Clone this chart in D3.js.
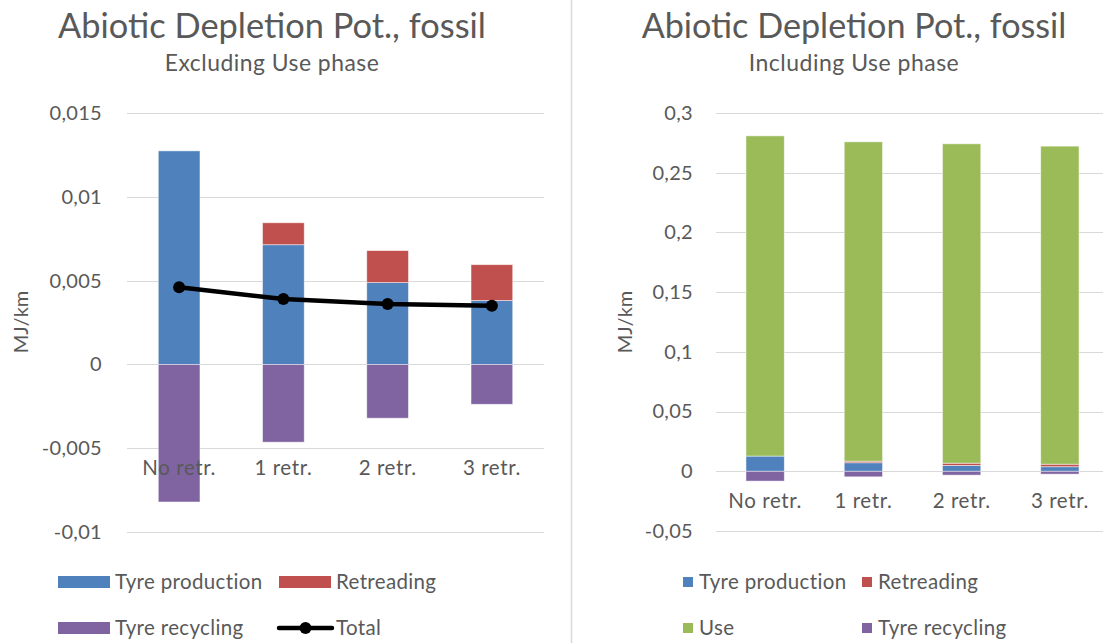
<!DOCTYPE html>
<html>
<head>
<meta charset="utf-8">
<script src="https://cdn.jsdelivr.net/npm/d3@7"></script>
<style>
  html, body { margin: 0; padding: 0; background: #fff; }
  svg { display: block; font-family: Lato, "Open Sans", sans-serif; }
</style>
</head>
<body>
<svg id="chart" width="1103" height="643"></svg>
<script>
// Abiotic depletion potential (fossil), MJ per km, per retreading scenario
const categories = ["No retr.", "1 retr.", "2 retr.", "3 retr."];
const tyreProduction = [0.01274, 0.00714, 0.00488, 0.00381];
const retreading = [0, 0.00131, 0.00191, 0.00214];
const tyreRecycling = [-0.00821, -0.00464, -0.00321, -0.00238];
const total = [0.0046, 0.0039, 0.0036, 0.0035];
const usePhase = [0.2681, 0.2674, 0.2674, 0.2663];

const leftTicks = [-0.01, -0.005, 0, 0.005, 0.01, 0.015];
const rightTicks = [-0.05, 0, 0.05, 0.1, 0.15, 0.2, 0.25, 0.3];

const colors = {
  prod: "#4F81BD",
  retr: "#C0504D",
  use: "#9BBB59",
  recy: "#8064A2"
};
const textColor = "#595959";
const gridColor = "#d9d9d9";
const labelSize = 20.5;
const labelSpacing = 0.35;

const fmt = v => String(v).replace(".", ",");

const svg = d3.select("#chart");

// divider between the two chart panels
svg.append("line")
  .attr("x1", 571.5).attr("x2", 571.5)
  .attr("y1", 0).attr("y2", 643)
  .attr("stroke", gridColor).attr("stroke-width", 1.5);

function fitText(sel, fontSize, targetWidth) {
  sel.attr("font-size", fontSize);
  const w = sel.node().getComputedTextLength();
  sel.attr("font-size", fontSize * targetWidth / w);
}

function titles(cx, sub, titleW, subW) {
  const t = svg.append("text")
    .attr("x", cx).attr("y", 38)
    .attr("text-anchor", "middle")
    .attr("fill", textColor)
    .text("Abiotic Depletion Pot., fossil");
  fitText(t, 30, titleW);
  const s = svg.append("text")
    .attr("x", cx).attr("y", 71)
    .attr("text-anchor", "middle")
    .attr("fill", textColor)
    .attr("letter-spacing", 0.5)
    .text(sub);
  fitText(s, 17, subW);
}

function panel(cfg) {
  const y = d3.scaleLinear().domain(cfg.domain).range([cfg.bottom, cfg.top]);
  const x = d3.scaleBand().domain(categories)
    .range([cfg.left, cfg.right])
    .paddingInner(cfg.pad).paddingOuter(cfg.pad / 2);

  // gridlines
  svg.append("g").selectAll("line").data(cfg.ticks).join("line")
    .attr("x1", cfg.left).attr("x2", cfg.right)
    .attr("y1", d => Math.round(y(d)) + 0.5).attr("y2", d => Math.round(y(d)) + 0.5)
    .attr("stroke", gridColor).attr("stroke-width", 1.2);

  // value axis labels
  const yAxis = d3.axisLeft(y).tickValues(cfg.ticks).tickFormat(fmt).tickSize(0).tickPadding(0);
  const ga = svg.append("g").attr("transform", `translate(${cfg.labelRight},0)`).call(yAxis);
  ga.select(".domain").remove();
  ga.selectAll("text").attr("fill", textColor).attr("font-size", 20).attr("font-family", "Lato")
    .attr("letter-spacing", 0.3);

  // axis title
  svg.append("text")
    .attr("transform", `translate(${cfg.titleX},322) rotate(-90)`)
    .attr("text-anchor", "middle").attr("dy", "0.35em")
    .attr("fill", textColor).attr("font-size", 20)
    .text("MJ/km");

  // stacked bars (positive parts upward, recycling downward)
  const rows = categories.map((c, i) => {
    const r = { cat: c };
    cfg.series.forEach(s => { r[s.key] = s.values[i]; });
    return r;
  });
  const stack = d3.stack().keys(cfg.series.map(s => s.key)).offset(d3.stackOffsetDiverging);
  const layers = stack(rows);
  const colorOf = Object.fromEntries(cfg.series.map(s => [s.key, s.color]));
  svg.append("g").selectAll("g").data(layers).join("g")
    .attr("fill", d => colorOf[d.key])
    .selectAll("rect").data(d => d).join("rect")
    .attr("x", d => x(d.data.cat))
    .attr("width", x.bandwidth())
    .attr("y", d => y(Math.max(d[0], d[1])))
    .attr("height", d => Math.abs(y(d[0]) - y(d[1])))
    .attr("stroke", "#ffffff").attr("stroke-width", 0.8).attr("stroke-opacity", 0.6);

  // category axis
  const xAxis = d3.axisBottom(x).tickSize(0).tickPadding(0);
  const gx = svg.append("g").attr("transform", `translate(0,${y(cfg.catAt) + cfg.catOffset})`).call(xAxis);
  gx.select(".domain").remove();
  gx.selectAll("text").attr("fill", textColor).attr("font-size", labelSize).attr("font-family", "Lato")
    .attr("letter-spacing", 0.6)
    .attr("dy", "0.35em").attr("y", 0);

  return { x, y };
}

// ---- left panel: excluding use phase ----
titles(272, "Excluding Use phase", 428, 218);
const L = panel({
  domain: [-0.01, 0.015], top: 113, bottom: 532,
  left: 127, right: 544, pad: 0.6,
  ticks: leftTicks, labelRight: 102, titleX: 21,
  catAt: -0.005, catOffset: 20,
  series: [
    { key: "prod", values: tyreProduction, color: colors.prod },
    { key: "retr", values: retreading, color: colors.retr },
    { key: "recy", values: tyreRecycling, color: colors.recy }
  ]
});

// total line with markers
const line = d3.line()
  .x((d, i) => L.x(categories[i]) + L.x.bandwidth() / 2)
  .y(d => L.y(d));
svg.append("path").datum(total)
  .attr("d", line)
  .attr("fill", "none").attr("stroke", "#000").attr("stroke-width", 4.5)
  .attr("stroke-linejoin", "round").attr("stroke-linecap", "round");
svg.append("g").selectAll("circle").data(total).join("circle")
  .attr("cx", (d, i) => L.x(categories[i]) + L.x.bandwidth() / 2)
  .attr("cy", d => L.y(d))
  .attr("r", 6).attr("fill", "#000");

// ---- right panel: including use phase ----
titles(854, "Including Use phase", 425, 214);
panel({
  domain: [-0.05, 0.3], top: 113, bottom: 531,
  left: 716, right: 1109, pad: 0.61,
  ticks: rightTicks, labelRight: 693, titleX: 625,
  catAt: 0, catOffset: 30,
  series: [
    { key: "prod", values: tyreProduction, color: colors.prod },
    { key: "retr", values: retreading, color: colors.retr },
    { key: "use", values: usePhase, color: colors.use },
    { key: "recy", values: tyreRecycling, color: colors.recy }
  ]
});

// ---- legends ----
function legendText(x, y, label) {
  svg.append("text").attr("x", x).attr("y", y).attr("dy", "0.35em")
    .attr("fill", textColor).attr("font-size", labelSize)
    .attr("letter-spacing", labelSpacing).text(label);
}
const leftLegend = [
  { label: "Tyre production", color: colors.prod, x: 58, y: 582 },
  { label: "Retreading", color: colors.retr, x: 279, y: 582 },
  { label: "Tyre recycling", color: colors.recy, x: 58, y: 628 }
];
leftLegend.forEach(d => {
  svg.append("rect").attr("x", d.x).attr("y", d.y - 6).attr("width", 52).attr("height", 12).attr("fill", d.color);
  legendText(d.x + 57, d.y, d.label);
});
svg.append("line").attr("x1", 279).attr("x2", 332).attr("y1", 628).attr("y2", 628)
  .attr("stroke", "#000").attr("stroke-width", 4.5).attr("stroke-linecap", "round");
svg.append("circle").attr("cx", 305.5).attr("cy", 628).attr("r", 6).attr("fill", "#000");
legendText(336, 628, "Total");

const rightLegend = [
  { label: "Tyre production", color: colors.prod, x: 683, y: 582 },
  { label: "Retreading", color: colors.retr, x: 862, y: 582 },
  { label: "Use", color: colors.use, x: 683, y: 628 },
  { label: "Tyre recycling", color: colors.recy, x: 862, y: 628 }
];
rightLegend.forEach(d => {
  svg.append("rect").attr("x", d.x).attr("y", d.y - 5).attr("width", 10).attr("height", 10).attr("fill", d.color);
  legendText(d.x + 16, d.y, d.label);
});
</script>
</body>
</html>
